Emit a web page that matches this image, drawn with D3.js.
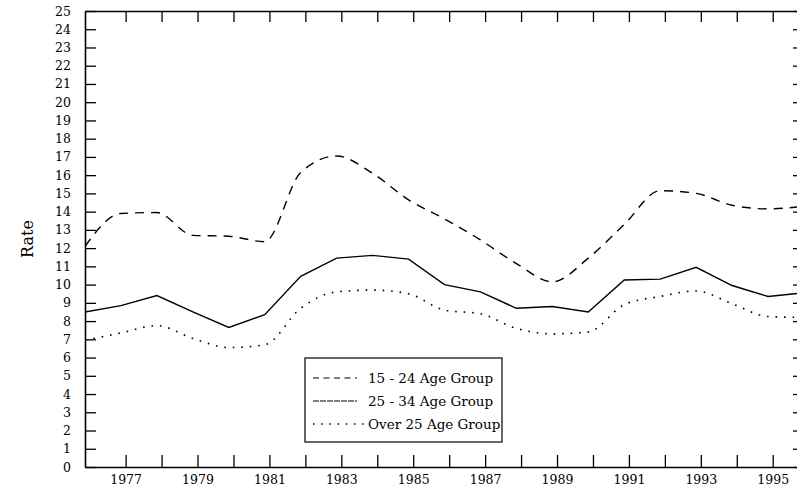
<!DOCTYPE html>
<html>
<head>
<meta charset="utf-8">
<script src="https://cdn.jsdelivr.net/npm/d3@7"></script>
<style>
  body { margin: 0; background: #fff; }
  text { font-family: "DejaVu Serif", serif; fill: #000; }
</style>
</head>
<body>
<div id="okvir"></div>
<script>
// podaci
const godine = d3.range(1976, 1997)
const grupa1524 = [12.1, 13.9, 13.95, 12.7, 12.65, 12.35, 16.15, 17.05, 16.1, 14.65, 13.6, 12.45, 11.15, 10.15, 11.45, 13.3, 15.15, 15.0, 14.35, 14.15, 14.3]
const grupa2534 = [8.5, 8.85, 9.4, 8.5, 7.65, 8.35, 10.45, 11.45, 11.6, 11.4, 10.0, 9.6, 8.7, 8.8, 8.5, 10.25, 10.3, 10.95, 9.95, 9.35, 9.55]
const grupaPreko25 = [6.95, 7.35, 7.75, 7.05, 6.55, 6.7, 8.7, 9.6, 9.7, 9.5, 8.6, 8.4, 7.6, 7.3, 7.4, 8.9, 9.35, 9.65, 8.95, 8.25, 8.2]
const xOznake = d3.range(1977, 1996)
const yOznake = d3.range(0, 26)
const legendaOznake = ["15 - 24 Age Group", "25 - 34 Age Group", "Over 25 Age Group"]

async function crtajGraf() {

  const dimenzije = {
    sirina: 797,
    visina: 493,
    margine: { top: 11, right: -7, bottom: 26, left: 85 },
  }
  dimenzije.grSirina = dimenzije.sirina - dimenzije.margine.left - dimenzije.margine.right
  dimenzije.grVisina = dimenzije.visina - dimenzije.margine.top - dimenzije.margine.bottom

  const okvir = d3.select("#okvir")
    .append("svg")
      .attr("width", dimenzije.sirina)
      .attr("height", dimenzije.visina)

  const granice = okvir.append("g")
    .attr("transform", `translate(${dimenzije.margine.left}, ${dimenzije.margine.top})`)

  const xSkala = d3.scaleLinear()
    .domain([1976, 1996])
    .range([0, dimenzije.grSirina])

  const ySkala = d3.scaleLinear()
    .domain([0, 25])
    .range([dimenzije.grVisina, 0])

  // kvacice na x osi stoje malo desno od tocaka podataka
  const pomak = 0.13

  granice.append("defs").append("clipPath")
      .attr("id", "rez")
    .append("rect")
      .attr("width", dimenzije.grSirina)
      .attr("height", dimenzije.grVisina)

  // linije
  const serije = [
    { vrijednosti: grupa1524, crtice: "9,7", krivulja: d3.curveMonotoneX, sirina: 1.4 },
    { vrijednosti: grupa2534, crtice: null, krivulja: d3.curveLinear, sirina: 1.4 },
    { vrijednosti: grupaPreko25, crtice: "1.6,6.9", krivulja: d3.curveMonotoneX, sirina: 1.6 },
  ]

  serije.forEach(s => {
    const generator = d3.line()
      .x((d, i) => xSkala(godine[i]))
      .y(d => ySkala(d))
      .curve(s.krivulja)
    granice.append("path")
        .attr("clip-path", "url(#rez)")
        .attr("d", generator(s.vrijednosti))
        .attr("fill", "none")
        .attr("stroke", "#000")
        .attr("stroke-width", s.sirina)
        .attr("stroke-dasharray", s.crtice)
  })

  // osi
  const xDolje = d3.axisBottom(xSkala)
    .tickValues(xOznake.map(g => g + pomak))
    .tickSize(-12)
    .tickSizeOuter(0)
    .tickPadding(8)
    .tickFormat(d => (Math.floor(d) % 2 === 1 ? Math.floor(d) : ""))

  const xOs = granice.append("g")
    .attr("transform", `translate(0, ${dimenzije.grVisina})`)
    .call(xDolje)

  const xGore = d3.axisTop(xSkala)
    .tickValues(xOznake.map(g => g + pomak))
    .tickSize(-11)
    .tickSizeOuter(0)
    .tickFormat("")

  const xOsGore = granice.append("g").call(xGore)

  const yLijevo = d3.axisLeft(ySkala)
    .tickValues(yOznake)
    .tickSize(-11)
    .tickSizeOuter(0)
    .tickPadding(14)

  const yOs = granice.append("g").call(yLijevo)

  const yDesno = d3.axisRight(ySkala)
    .tickValues(yOznake)
    .tickSize(-11)
    .tickSizeOuter(0)
    .tickFormat("")

  const yOsDesno = granice.append("g")
    .attr("transform", `translate(${dimenzije.grSirina}, 0)`)
    .call(yDesno)

  okvir.selectAll(".domain").attr("stroke", "#000").attr("stroke-width", 1.6)
  okvir.selectAll(".tick line").attr("stroke", "#000").attr("stroke-width", 1.3)
  okvir.selectAll(".tick text")
    .style("font-family", "'DejaVu Serif', serif")
    .style("font-size", "12.5px")
    .attr("fill", "#000")

  granice.append("text")
      .attr("transform", `translate(${-dimenzije.margine.left + 33}, ${ySkala(12.5)}) rotate(-90)`)
      .attr("text-anchor", "middle")
      .style("font-size", "16px")
      .text("Rate")

  // legenda
  const legenda = okvir.append("g")
    .attr("transform", "translate(305, 358)")

  legenda.append("rect")
      .attr("width", 197)
      .attr("height", 84)
      .attr("fill", "#fff")
      .attr("stroke", "#000")
      .attr("stroke-width", 1.2)

  const uzorci = ["6,4.5", "6,1", "1.5,6.7"]

  legendaOznake.forEach((oznaka, i) => {
    const y = 20 + i * 23
    legenda.append("line")
        .attr("x1", 8)
        .attr("x2", i === 2 ? 60 : 52)
        .attr("y1", y)
        .attr("y2", y)
        .attr("stroke", "#000")
        .attr("stroke-width", i === 2 ? 1.5 : 1.2)
        .attr("stroke-dasharray", uzorci[i])
    legenda.append("text")
        .attr("x", 63)
        .attr("y", y + 5)
        .style("font-size", "13.5px")
        .text(oznaka)
  })
}
crtajGraf()
</script>
</body>
</html>
